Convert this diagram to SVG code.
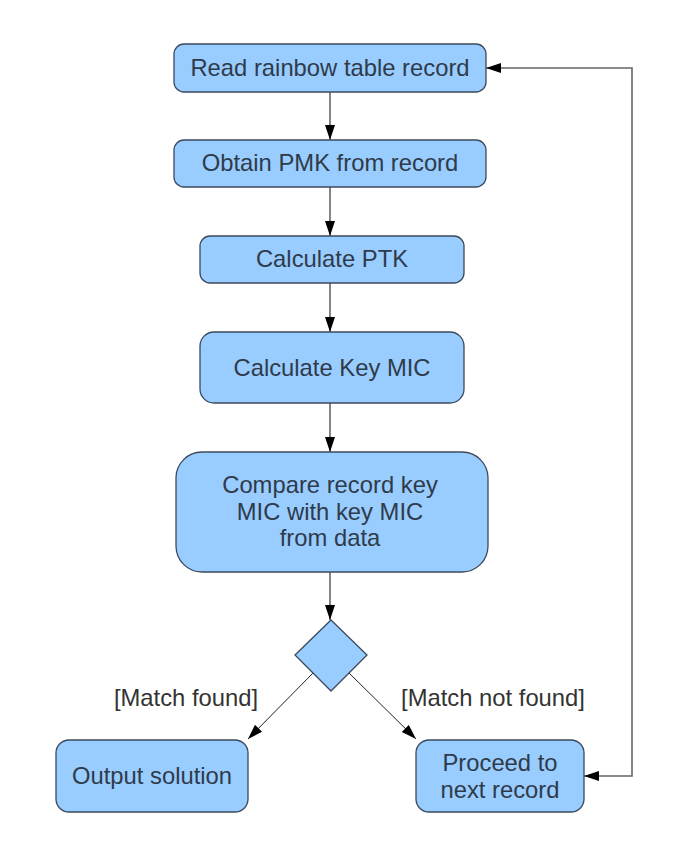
<svg xmlns="http://www.w3.org/2000/svg" width="680" height="854" viewBox="0 0 680 854">
<defs>
<marker id="ah" markerUnits="userSpaceOnUse" markerWidth="16" markerHeight="12" refX="15" refY="5" orient="auto-start-reverse">
<path d="M0,0 L15,5 L0,10 Z" fill="#000"/>
</marker>
<style>
.box{fill:#99ccff;stroke:#3b4a5c;stroke-width:1.3}
.t{font-family:"Liberation Sans",Arial,sans-serif;font-size:23.8px;fill:#2f3b4a;text-anchor:middle}
.lbl{font-family:"Liberation Sans",Arial,sans-serif;font-size:23.8px;fill:#333;text-anchor:middle}
.c{fill:none;stroke:#666;stroke-width:1.6}
.d{fill:none;stroke:#222;stroke-width:1}
</style>
</defs>
<rect width="680" height="854" fill="#fff"/>
<g id="connectors">
<line class="c" x1="330" y1="92" x2="330" y2="140" marker-end="url(#ah)"/>
<line class="c" x1="330" y1="187" x2="330" y2="236" marker-end="url(#ah)"/>
<line class="c" x1="330" y1="283" x2="330" y2="332" marker-end="url(#ah)"/>
<line class="c" x1="330" y1="403" x2="330" y2="452" marker-end="url(#ah)"/>
<line class="c" x1="330" y1="572" x2="330" y2="620" marker-end="url(#ah)"/>
<line class="d" x1="313" y1="673" x2="248" y2="739" marker-end="url(#ah)"/>
<line class="d" x1="349" y1="673" x2="416" y2="739" marker-end="url(#ah)"/>
<polyline class="c" points="584,776 632,776 632,68 486,68" marker-start="url(#ah)" marker-end="url(#ah)"/>
</g>
<g id="n1"><rect class="box" x="174" y="44" width="312" height="48" rx="10"/><text class="t" x="330" y="76">Read rainbow table record</text></g>
<g id="n2"><rect class="box" x="174" y="140" width="312" height="47" rx="10"/><text class="t" x="330" y="171">Obtain PMK from record</text></g>
<g id="n3"><rect class="box" x="200" y="236" width="264" height="47" rx="10"/><text class="t" x="332" y="267">Calculate PTK</text></g>
<g id="n4"><rect class="box" x="200" y="332" width="264" height="71" rx="14"/><text class="t" x="332" y="376">Calculate Key MIC</text></g>
<g id="n5"><rect class="box" x="176" y="452" width="312" height="120" rx="26"/><text class="t" x="330" y="493">Compare record key</text><text class="t" x="330" y="520">MIC with key MIC</text><text class="t" x="330" y="546">from data</text></g>
<g id="decision"><polygon class="box" points="331,620 367,655 331,691 295,655"/></g>
<g id="lbl1"><text class="lbl" x="186" y="706">[Match found]</text></g>
<g id="lbl2"><text class="lbl" x="493" y="706">[Match not found]</text></g>
<g id="n6"><rect class="box" x="56" y="740" width="192" height="72" rx="13"/><text class="t" x="152" y="784">Output solution</text></g>
<g id="n7"><rect class="box" x="416" y="740" width="168" height="72" rx="13"/><text class="t" x="500" y="771">Proceed to</text><text class="t" x="500" y="798">next record</text></g>
</svg>
